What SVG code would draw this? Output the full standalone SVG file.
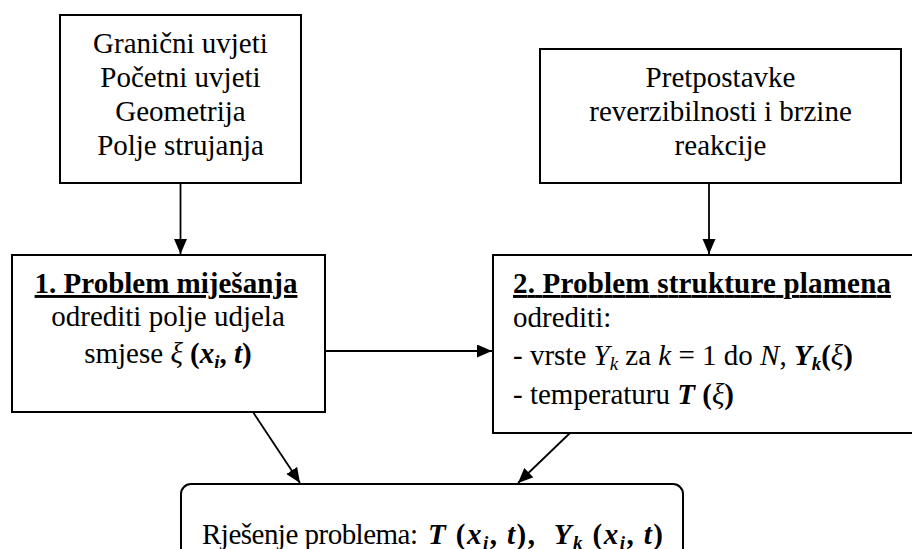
<svg xmlns="http://www.w3.org/2000/svg" width="912" height="549" viewBox="0 0 912 549">
<style>
text{font-size:29px;fill:#000}
.box{fill:#fff;stroke:#000;stroke-width:2}
.c{text-anchor:middle}
.b{font-weight:bold}
.i{font-style:italic}
.bi{font-weight:bold;font-style:italic}
.u{text-decoration:underline}
.sub{font-size:19px}
.edge{stroke:#000;stroke-width:1.8;fill:none;marker-end:url(#ah)}
</style>
<defs>
<marker id="ah" markerUnits="userSpaceOnUse" markerWidth="16" markerHeight="14" refX="15" refY="6.5" orient="auto">
<path d="M0,0 L15,6.5 L0,13 z" fill="#000"/>
</marker>
</defs>
<g id="connectors">
<line class="edge" x1="180.5" y1="183" x2="180.5" y2="254"/>
<line class="edge" x1="709" y1="183" x2="709" y2="254"/>
<line class="edge" x1="325" y1="351" x2="492" y2="351"/>
<line class="edge" x1="253" y1="412" x2="300" y2="483"/>
<line class="edge" x1="570" y1="433" x2="518" y2="483"/>
</g>
<g font-family="Liberation Serif, DejaVu Serif, serif">
<g id="uvjeti">
<rect class="box" x="60" y="15" width="241" height="168"/>
<text class="c" x="180.5" y="53">Granični uvjeti</text>
<text class="c" x="180.5" y="87">Početni uvjeti</text>
<text class="c" x="180.5" y="121">Geometrija</text>
<text class="c" x="180.5" y="155">Polje strujanja</text>
</g>
<g id="pretpostavke">
<rect class="box" x="540" y="49" width="361" height="134"/>
<text class="c" x="720.5" y="87">Pretpostavke</text>
<text class="c" x="720.5" y="121">reverzibilnosti i brzine</text>
<text class="c" x="720.5" y="155">reakcije</text>
</g>
<g id="problem1">
<rect class="box" x="12" y="255" width="313" height="157"/>
<text class="c b u" x="166" y="293">1. Problem miješanja</text>
<text class="c" x="168" y="326">odrediti polje udjela</text>
<text class="c" x="168" y="363" xml:space="preserve">smjese <tspan class="i">ξ</tspan><tspan class="b"> (</tspan><tspan class="bi">x</tspan><tspan class="bi sub" dy="5">i</tspan><tspan class="b" dy="-5">, </tspan><tspan class="bi">t</tspan><tspan class="b">)</tspan></text>
</g>
<g id="problem2">
<rect class="box" x="493" y="255" width="430" height="178"/>
<text class="b u" x="513" y="293" textLength="378" lengthAdjust="spacing">2. Problem strukture plamena</text>
<text x="513" y="327">odrediti:</text>
<text x="513" y="365" xml:space="preserve">- vrste <tspan class="i">Y</tspan><tspan class="i sub" dy="5">k</tspan><tspan dy="-5"> za </tspan><tspan class="i">k</tspan> = 1 do <tspan class="i">N</tspan>, <tspan class="bi">Y</tspan><tspan class="bi sub" dy="5">k</tspan><tspan class="b" dy="-5">(</tspan><tspan class="i">ξ</tspan><tspan class="b">)</tspan></text>
<text x="513" y="404" xml:space="preserve">- temperaturu <tspan class="bi">T</tspan><tspan class="b"> (</tspan><tspan class="i">ξ</tspan><tspan class="b">)</tspan></text>
</g>
<g id="rjesenje">
<rect class="box" x="181" y="484" width="502" height="90" rx="10" ry="10"/>
<text x="202" y="544" textLength="216" lengthAdjust="spacing">Rješenje problema:</text>
<text x="428" y="544" xml:space="preserve" textLength="235" lengthAdjust="spacing"><tspan class="bi">T</tspan><tspan class="b"> (</tspan><tspan class="bi">x</tspan><tspan class="bi sub" dy="5">i</tspan><tspan class="b" dy="-5">, </tspan><tspan class="bi">t</tspan><tspan class="b">),  </tspan><tspan class="bi">Y</tspan><tspan class="bi sub" dy="5">k</tspan><tspan class="b" dy="-5"> (</tspan><tspan class="bi">x</tspan><tspan class="bi sub" dy="5">i</tspan><tspan class="b" dy="-5">, </tspan><tspan class="bi">t</tspan><tspan class="b">)</tspan></text>
</g>
</g>
</svg>
